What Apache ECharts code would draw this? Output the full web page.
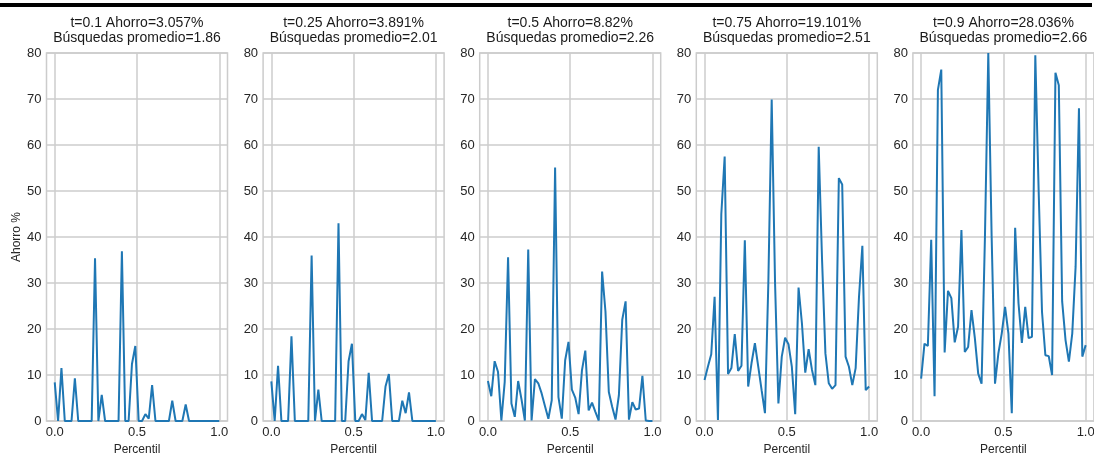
<!DOCTYPE html>
<html>
<head>
<meta charset="utf-8">
<script src="https://cdn.jsdelivr.net/npm/echarts@6/dist/echarts.min.js"></script>
<style>
  html, body { margin: 0; padding: 0; background: #fff; }
  #chart { width: 1094px; height: 456px; }
</style>
</head>
<body>
<div id="chart"></div>
<script>
// Percentile positions (x axis)
const percentil = [0, 0.0204, 0.0408, 0.0612, 0.0816, 0.1020, 0.1224, 0.1429, 0.1633, 0.1837,
  0.2041, 0.2245, 0.2449, 0.2653, 0.2857, 0.3061, 0.3265, 0.3469, 0.3673, 0.3878,
  0.4082, 0.4286, 0.4490, 0.4694, 0.4898, 0.5102, 0.5306, 0.5510, 0.5714, 0.5918,
  0.6122, 0.6327, 0.6531, 0.6735, 0.6939, 0.7143, 0.7347, 0.7551, 0.7755, 0.7959,
  0.8163, 0.8367, 0.8571, 0.8776, 0.8980, 0.9184, 0.9388, 0.9592, 0.9796, 1];

// Ahorro % per panel
const ahorro_t010 = [8.4, 0, 11.5, 0, 0, 0, 9.3, 0, 0, 0,
  0, 0, 35.4, 0, 5.7, 0, 0, 0, 0, 0,
  36.9, 0, 0, 12.4, 16.3, 0, 0, 1.5, 0.5, 7.8,
  0, 0, 0, 0, 0, 4.4, 0, 0, 0, 3.6,
  0, 0, 0, 0, 0, 0, 0, 0, 0, 0];
const ahorro_t025 = [8.6, 0, 12, 0, 0, 0, 18.4, 0, 0, 0,
  0, 0, 36, 0, 6.8, 0, 0, 0, 0, 0,
  43, 0, 0, 13, 16.8, 0, 0, 1.5, 0.2, 10.5,
  0, 0, 0, 0, 7.5, 10.2, 0, 0, 0, 4.4,
  1.7, 6.2, 0, 0, 0, 0, 0, 0, 0, 0];
const ahorro_t050 = [8.7, 5.4, 13, 10.7, 0.1, 8.5, 35.6, 3.8, 0.9, 8.7,
  4.7, 0.1, 37.3, 0.1, 9.1, 8.2, 6, 3.2, 0.5, 4.5,
  55.1, 5.2, 0.5, 13.2, 17.2, 6.8, 5.1, 1.5, 11, 15.3,
  2.3, 4, 2, 0.1, 32.5, 23.8, 6.3, 3.1, 0.3, 5.6,
  22, 26, 0.3, 4.1, 2.5, 2.7, 9.8, 0.1, 0, 0];
const ahorro_t075 = [8.9, 11.8, 14.5, 27, 0.2, 45, 57.5, 10.2, 11.5, 18.9,
  10.9, 12, 39.3, 7.5, 12.6, 16.9, 11.8, 6.7, 1.7, 30,
  69.9, 30, 3.8, 14, 18.1, 16.7, 11.8, 1.5, 29, 21.3,
  10.5, 15.6, 11.1, 7.8, 59.6, 35, 14.7, 8.2, 7, 7.8,
  52.8, 51.4, 14, 11.8, 7.8, 11.5, 27, 38.1, 6.7, 7.5];
const ahorro_t090 = [9.2, 16.8, 16.3, 39.4, 5.4, 72, 76.4, 14.9, 28.3, 26.7,
  17.1, 20.5, 41.5, 15, 16.1, 24.1, 18, 10.3, 8.1, 40,
  80, 40, 8.1, 14.7, 19, 24.8, 19, 1.7, 42, 25.6,
  17, 24.8, 18, 18.3, 79.5, 50, 23.7, 14.3, 14.1, 10,
  75.7, 73, 26, 17.6, 12.9, 19, 33.5, 68, 14, 16.5];

const titles = [
  't=0.1 Ahorro=3.057%\nBúsquedas promedio=1.86',
  't=0.25 Ahorro=3.891%\nBúsquedas promedio=2.01',
  't=0.5 Ahorro=8.82%\nBúsquedas promedio=2.26',
  't=0.75 Ahorro=19.101%\nBúsquedas promedio=2.51',
  't=0.9 Ahorro=28.036%\nBúsquedas promedio=2.66'
];
const seriesValues = [ahorro_t010, ahorro_t025, ahorro_t050, ahorro_t075, ahorro_t090];
const xTicks = [0, 0.5, 1];
const yTicks = { min: 0, max: 80, interval: 10 };

const FONT = '"Liberation Sans", Arial, sans-serif';
const GRID_COLOR = '#cccccc';
const TEXT_COLOR = '#262626';
const LINE_COLOR = '#1f77b4';

const panelLeft0 = 46.5, panelStep = 216.6, panelW = 181, panelTop = 53, panelH = 368;

const grids = [], xAxes = [], yAxes = [], series = [], title = [];
for (let k = 0; k < 5; k++) {
  const left = panelLeft0 + panelStep * k;
  grids.push({
    left: left, top: panelTop, width: panelW, height: panelH,
    outerBoundsMode: 'none', containLabel: false,
    show: true, borderColor: GRID_COLOR, borderWidth: 1.5, backgroundColor: '#fff'
  });
  xAxes.push({
    type: 'value', gridIndex: k, min: -0.05, max: 1.05,
    axisLine: { show: false }, axisTick: { show: false },
    splitLine: { show: false },
    axisLabel: {
      customValues: xTicks, margin: 5, color: TEXT_COLOR, fontSize: 13, fontFamily: FONT,
      formatter: v => v.toFixed(1)
    },
    name: 'Percentil', nameLocation: 'middle', nameGap: 21,
    nameTextStyle: { color: TEXT_COLOR, fontSize: 12, fontFamily: FONT }
  });
  yAxes.push({
    type: 'value', gridIndex: k, min: yTicks.min, max: yTicks.max, interval: yTicks.interval,
    axisLine: { show: false }, axisTick: { show: false },
    splitLine: { show: true, lineStyle: { color: GRID_COLOR, width: 1.5 } },
    axisLabel: { margin: 5, color: TEXT_COLOR, fontSize: 13, fontFamily: FONT },
    name: k === 0 ? 'Ahorro %' : '', nameLocation: 'middle', nameGap: 24,
    nameTextStyle: { color: TEXT_COLOR, fontSize: 12, fontFamily: FONT }
  });
  series.push({
    type: 'line', xAxisIndex: k, yAxisIndex: k, z: 3,
    data: percentil.map((x, i) => [x, seriesValues[k][i]]),
    showSymbol: false, symbol: 'none',
    lineStyle: { color: LINE_COLOR, width: 2 },
    itemStyle: { color: LINE_COLOR },
    clip: true, silent: true, animation: false,
    markLine: {
      z: 1, silent: true, animation: false, symbol: ['none', 'none'],
      label: { show: false },
      lineStyle: { color: GRID_COLOR, width: 1.5, type: 'solid' },
      emphasis: { disabled: true },
      data: xTicks.map(v => ({ xAxis: v }))
    }
  });
  title.push({
    text: titles[k],
    left: left + panelW / 2, top: 16, padding: 0, textAlign: 'center',
    textStyle: { color: '#1a1a1a', fontSize: 14, fontWeight: 'normal', fontFamily: FONT, lineHeight: 15 }
  });
}

const chart = echarts.init(document.getElementById('chart'), null, { renderer: 'canvas' });
chart.setOption({
  animation: false,
  backgroundColor: '#fff',
  title: title,
  grid: grids,
  xAxis: xAxes,
  yAxis: yAxes,
  series: series,
  graphic: [{
    type: 'rect', left: 0, top: 3, silent: true,
    shape: { width: 1092, height: 4 }, style: { fill: '#000' }
  }]
});
</script>
</body>
</html>
